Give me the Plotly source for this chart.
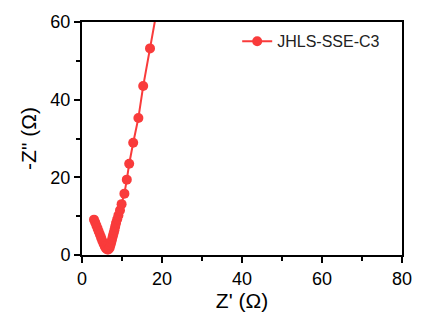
import plotly.graph_objects as go

z_real = [3.0, 3.3, 3.6, 3.9, 4.2, 4.5, 4.8, 5.1, 5.4, 5.7, 6.0, 6.3, 6.6, 6.9, 7.1, 7.3,
          7.5, 7.7, 7.9, 8.1, 8.3, 8.5, 8.8, 9.1, 9.5, 9.9, 10.6, 11.2, 11.8, 12.8, 14.1,
          15.3, 17.0, 18.8]
z_imag = [9.1, 8.4, 7.6, 6.8, 6.0, 5.2, 4.4, 3.6, 2.9, 2.2, 1.7, 1.4, 1.4, 1.8, 2.5, 3.2,
          4.0, 4.8, 5.6, 6.4, 7.3, 8.2, 9.2, 10.2, 11.5, 13.1, 15.8, 19.4, 23.5, 28.9, 35.3,
          43.5, 53.2, 63.5]
series_name = "JHLS-SSE-C3"
x_ticks = [0, 20, 40, 60, 80]
y_ticks = [0, 20, 40, 60]

red = "#F93B3B"
font = "Liberation Sans, Arial, sans-serif"

fig = go.Figure()
fig.add_trace(go.Scatter(
    x=z_real, y=z_imag, mode="lines+markers", name=series_name,
    line=dict(color=red, width=2),
    marker=dict(color=red, size=10, symbol="circle"),
))

axis_common = dict(
    showline=True, linecolor="black", linewidth=2, mirror=True,
    ticks="outside", ticklen=6, tickwidth=1.6, tickcolor="black",
    showgrid=False, zeroline=False,
    tickfont=dict(family=font, size=18, color="black"),
    minor=dict(ticks="outside", ticklen=4, tickwidth=1.6, tickcolor="black", dtick=10),
)

fig.update_xaxes(range=[0, 80], tickvals=x_ticks, dtick=20,
                 title=dict(text="Z' (Ω)", font=dict(family=font, size=21, color="black"), standoff=6),
                 **axis_common)
fig.update_yaxes(range=[0, 60], tickvals=y_ticks, dtick=20,
                 title=dict(text='-Z" (Ω)', font=dict(family=font, size=21, color="black"), standoff=8),
                 **axis_common)

fig.update_layout(
    width=430, height=322,
    margin=dict(l=82, r=28, t=15, b=67),
    paper_bgcolor="white", plot_bgcolor="white",
    showlegend=True,
    legend=dict(x=0.485, y=0.99, xanchor="left", yanchor="top",
                bgcolor="rgba(0,0,0,0)", font=dict(family=font, size=16, color="#222")),
)

fig.write_html("out.html")
